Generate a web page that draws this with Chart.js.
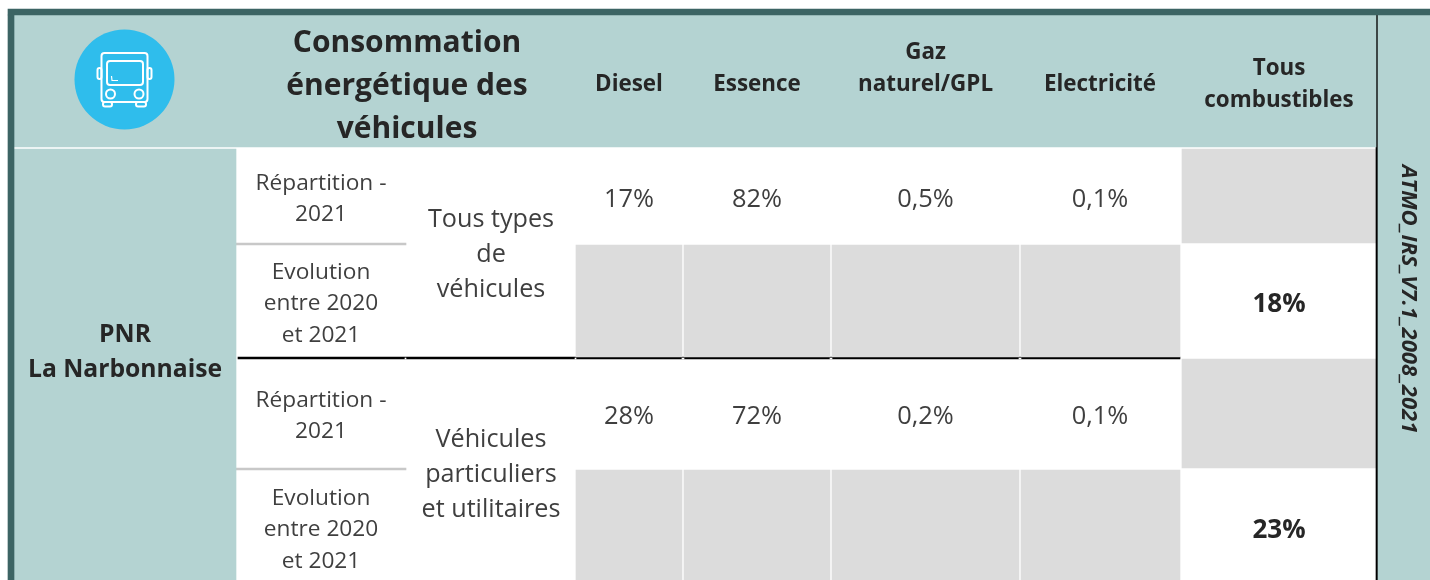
<!DOCTYPE html>
<html lang="fr">
<head>
<meta charset="utf-8">
<title>Consommation énergétique des véhicules</title>
<style>
html,body{margin:0;padding:0;background:#fff;overflow:hidden}
#wrap{width:1430px;height:580px}
canvas{display:block}
</style>
<script src="https://cdn.jsdelivr.net/npm/chart.js@4/dist/chart.umd.min.js"></script>
</head>
<body>
<div id="wrap"><canvas id="c" width="1430" height="580"></canvas></div>
<script>
// ---- content ----
const titleLines = ['Consommation', 'énergétique des', 'véhicules'];
const fuelCategories = [['Diesel'], ['Essence'], ['Gaz', 'naturel/GPL'], ['Electricité']];
const allFuelsHeader = ['Tous', 'combustibles'];
const territory = ['PNR', 'La Narbonnaise'];
const shareLabel = ['Répartition -', '2021'];
const changeLabel = ['Evolution', 'entre 2020', 'et 2021'];
const vehicleGroupAll = ['Tous types', 'de', 'véhicules'];
const vehicleGroupCars = ['Véhicules', 'particuliers', 'et utilitaires'];
const shareAll = ['17%', '82%', '0,5%', '0,1%'];
const shareCars = ['28%', '72%', '0,2%', '0,1%'];
const changeAll = '18%';
const changeCars = '23%';
const sourceLabel = 'ATMO_IRS_V7.1_2008_2021';

// ---- layout, in units of the two linear axes ----
const fuelCols = [[576,682],[684,830],[832,1019],[1021,1180]];
const fuelCentres = [629,757,925.5,1100];
const totalCol = [1182,1376];
const totalCentre = 1279;
const labelCentre = 321, groupCentre = 491, territoryCentre = 125;
const C = {dark:'#3c6464', pale:'#b4d3d2', grey:'#dcdcdc', rule:'#c8c8c8', blue:'#2fbdec', black:'#000', ink:'#262626', soft:'#3f3f3f'};

// one dataset per horizontal band: {top, bottom, spans, color}
function band(top, bottom, spans, color){
  return {type:'bar', indexAxis:'y', grouped:false, barThickness:bottom-top,
    data:spans.map(s=>({x:s, y:(top+bottom)/2})),
    backgroundColor:color, borderWidth:0, order:2};
}
const datasets = [
  {type:'bubble', data:[{x:124.5,y:79.5,r:50}], backgroundColor:C.blue, borderWidth:0, order:1, xAxisID:'x', yAxisID:'y'},
  band(9,15,[[8,1430]],C.dark),
  band(15,580,[[8,14]],C.dark),
  band(15,147,[[14,1376]],C.pale),
  band(15,580,[[1378,1430]],C.pale),
  band(15,580,[[1376,1378]],C.black),
  band(149,580,[[14,236]],C.pale),
  band(149,243,[totalCol],C.grey),
  band(245,357,fuelCols,C.grey),
  band(359,468,[totalCol],C.grey),
  band(470,580,fuelCols,C.grey),
  band(243,245,[[236,406]],C.rule),
  band(468,470,[[236,406]],C.rule),
  band(358,359,[[405,406],[575,576],[682,684],[830,832],[1019,1021]],'#fff'),
  band(357,359,[[238,1180]],C.black)
];

const font = (w,s,st='') => `${st} ${w} ${s}px "Open Sans", sans-serif`;
const S = {
  title:{f:font(700,30), c:C.ink, lh:43},
  head:{f:font(700,22.4), c:C.ink, lh:32},
  body:{f:font(400,22.7), c:C.soft, lh:31.5},
  group:{f:font(400,25.2), c:C.soft, lh:35},
  val:{f:font(400,25.4), c:C.soft, lh:35},
  strong:{f:font(700,26), c:C.ink, lh:35},
  place:{f:font(700,24.7), c:C.ink, lh:35}
};

const tablePlugin = {
  id:'table',
  afterDatasetsDraw(chart){
    const {ctx} = chart, X = v=>chart.scales.x.getPixelForValue(v), Y = v=>chart.scales.y.getPixelForValue(v);
    ctx.save();
    // bus pictogram
    ctx.strokeStyle='#fff'; ctx.lineWidth=2; ctx.lineJoin='round';
    const rr=(a,b,c,d,r)=>{ctx.beginPath();ctx.roundRect(X(a),Y(b),X(c)-X(a),Y(d)-Y(b),r);ctx.stroke();};
    rr(101.5,53,147.5,102,3);
    rr(107,61,143,85,3);
    rr(97.5,68,101.5,79,2); rr(147.5,68,151.5,79,2);
    rr(103,102,112,106.5,2); rr(136,102,146,106.5,2);
    [110.5,139].forEach(x=>{ctx.beginPath();ctx.arc(X(x),Y(94),4.5,0,Math.PI*2);ctx.stroke();});
    ctx.lineWidth=1.2;ctx.beginPath();ctx.moveTo(X(111.5),Y(76));ctx.lineTo(X(112),Y(80.5));ctx.lineTo(X(118),Y(80.5));ctx.stroke();

    ctx.textAlign='center'; ctx.textBaseline='middle';
    const put=(lines,x,y,s)=>{
      ctx.font=s.f; ctx.fillStyle=s.c;
      lines.forEach((t,i)=>ctx.fillText(t,X(x),Y(y+2+(i-(lines.length-1)/2)*s.lh)));
    };
    put(titleLines,407,84.5,S.title);
    fuelCategories.forEach((l,i)=>put(l,fuelCentres[i],l.length>1?67:83,S.head));
    put(allFuelsHeader,totalCentre,83,S.head);
    put(territory,territoryCentre,350,S.place);
    put(shareLabel,labelCentre,197,S.body);
    put(changeLabel,labelCentre,302,S.body);
    put(shareLabel,labelCentre,414,S.body);
    put(changeLabel,labelCentre,528,S.body);
    put(vehicleGroupAll,groupCentre,253,S.group);
    put(vehicleGroupCars,groupCentre,472.5,S.group);
    shareAll.forEach((v,i)=>put([v],fuelCentres[i],198,S.val));
    shareCars.forEach((v,i)=>put([v],fuelCentres[i],415,S.val));
    put([changeAll],totalCentre,303,S.strong);
    put([changeCars],totalCentre,529,S.strong);
    // source, turned a quarter clockwise
    ctx.translate(X(1408.5),Y(299)); ctx.rotate(Math.PI/2);
    ctx.font=font(700,22,'italic'); ctx.fillStyle=C.ink;
    ctx.fillText(sourceLabel,0,0);
    ctx.restore();
  }
};

document.fonts.load('700 24px "Open Sans"').catch(()=>{}).finally(()=>{
new Chart(document.getElementById('c'), {
  type:'bar',
  data:{datasets},
  options:{
    responsive:false, animation:false, events:[],
    layout:{padding:0, autoPadding:false},
    plugins:{legend:{display:false}, title:{display:false}, tooltip:{enabled:false}},
    scales:{
      x:{type:'linear', min:0, max:1430, offset:false, display:false, grid:{display:false}},
      y:{type:'linear', min:0, max:580, reverse:true, offset:false, display:false, grid:{display:false}}
    }
  },
  plugins:[tablePlugin]
});
});
</script>
</body>
</html>
